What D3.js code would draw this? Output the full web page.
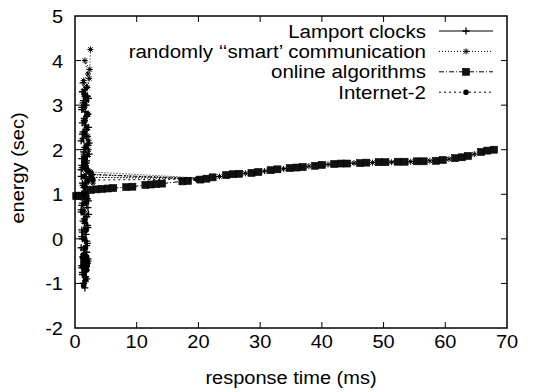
<!DOCTYPE html>
<html lang="en">
<head>
  <meta charset="UTF-8">
  <title>energy vs response time</title>
  <script src="https://d3js.org/d3.v7.min.js"></script>
  <style>
    body {
      margin: 0;
      background: #fff;
    }
    text {
      font-family: "Liberation Sans", Arial, Helvetica, sans-serif;
      font-size: 20px;
      fill: #000;
    }
    .legend text {
      font-size: 20.5px;
    }
    .frame {
      fill: none;
      stroke: #000;
      stroke-width: 1.5px;
    }
    .series {
      fill: none;
      stroke: #000;
      stroke-width: 1px;
    }
  </style>
</head>
<body>
  <svg id="chart" width="536" height="392"></svg>

  <script>
    // tick labels
    const xTicks = [0, 10, 20, 30, 40, 50, 60, 70];
    const yTicks = [-2, -1, 0, 1, 2, 3, 4, 5];

    // series names, in legend order
    const seriesNames = ["Lamport clocks", "randomly \u2018\u2018smart\u2019 communication", "online algorithms", "Internet-2"];

    // Lamport clocks: dense column near 1.5 ms (down, up, down again)
    const lamportX = [1.3, 1.9, 1.2, 2.0, 1.4, 1.8, 1.1, 2.1, 1.5, 1.2, 2.2, 1.3, 1.9, 1.0, 2.1, 1.4, 2.3, 1.1, 1.8, 1.2,
                      2.4, 1.0, 2.2, 1.3, 2.5, 1.1, 2.0, 1.2, 2.1, 1.0, 1.9, 1.3, 2.0, 1.1, 1.8, 1.2, 2.0, 1.0, 1.9, 1.3,
                      2.1, 1.1, 1.8, 1.2, 1.9, 1.3, 1.6,
                      1.7, 1.2, 2.0, 1.4, 1.9, 1.1, 2.1, 1.5, 1.0, 2.2, 1.6, 1.2, 2.6, 1.1, 2.0, 1.6, 1.3, 1.9, 1.5, 1.7,
                      1.3, 1.6,
                      1.5, 2.2, 1.1, 1.9, 1.6, 1.2, 2.3, 1.4, 1.9, 1.0, 2.3, 1.5, 1.8, 1.1, 2.2, 1.6, 1.2, 1.9, 1.4, 2.1,
                      1.1, 1.7, 1.4];
    const lamportY = [3.5, 3.4, 3.3, 3.2, 3.1, 3.0, 2.9, 2.8, 2.7, 2.6, 2.5, 2.4, 2.3, 2.2, 2.1, 2.0, 1.9, 1.8, 1.7, 1.6,
                      1.5, 1.4, 1.3, 1.2, 1.1, 1.0, 0.9, 0.8, 0.7, 0.6, 0.5, 0.4, 0.3, 0.2, 0.1, 0.0, -0.1, -0.2, -0.3, -0.4,
                      -0.5, -0.6, -0.7, -0.8, -0.9, -1.0, -1.1,
                      -0.95, -0.75, -0.55, -0.35, -0.15, 0.05, 0.25, 0.45, 0.65, 0.85, 1.05, 1.25, 1.45, 1.65, 1.85, 2.05, 2.25, 2.45, 2.65, 2.85,
                      3.05, 3.25,
                      3.35, 3.15, 2.95, 2.75, 2.55, 2.35, 2.15, 1.95, 1.75, 1.55, 1.35, 1.15, 0.95, 0.75, 0.55, 0.35, 0.15, -0.05, -0.25, -0.45,
                      -0.65, -0.85, -1.0];

    // randomly "smart" communication
    const randomX = [2.5, 2.4, 1.6, 2.1, 1.4, 2.0, 1.5, 1.9, 1.3, 2.1, 1.6, 1.9, 1.4, 2.2, 1.7, 2.0, 1.5, 1.8, 1.2, 2.3,
                     1.6, 2.0, 1.3, 2.6, 1.7, 2.9, 1.5, 1.8, 2.2, 1.6, 2.0, 1.5, 2.3, 1.7, 2.1, 1.4, 2.6, 21.0, 2.7, 20.6,
                     2.8, 21.8, 23.4, 27.6, 30.7, 33.8, 37.9, 41.0, 45.2, 48.2, 51.3, 54.4, 57.5, 60.6, 64.7];
    const randomY = [4.25, 3.8, 4.0, 3.7, 3.55, 3.4, 3.25, 3.1, 2.95, 2.8, 2.65, 2.5, 2.35, 2.2, 2.05, 1.9, 1.8, 1.7, 1.6, 1.5,
                     1.4, 1.3, 1.2, 1.35, 1.1, 1.25, 1.0, 1.6, 2.0, 2.4, 2.8, 3.2, 3.6, 3.0, 2.3, 1.9, 1.5, 1.36, 1.44, 1.34,
                     1.38, 1.37, 1.40, 1.47, 1.52, 1.57, 1.63, 1.67, 1.70, 1.71, 1.72, 1.73, 1.75, 1.79, 1.90];

    // online algorithms
    const onlineX = [0.2, 0.8, 1.4, 1.7, 2.6, 3.5, 4.4, 5.3, 6.2, 8.3, 9.3, 11.4, 12.3, 13.2, 14.1, 17.4, 18.3, 20.3, 21.3, 22.3,
                     24.5, 25.6, 26.6, 28.6, 29.7, 31.7, 32.8, 34.8, 35.9, 36.9, 38.9, 40.0, 42.0, 43.1, 44.1, 46.2, 47.2, 49.2, 50.3, 52.3,
                     53.4, 55.4, 56.5, 58.5, 59.6, 61.6, 62.7, 63.7, 65.8, 66.8, 67.9];
    const onlineY = [0.96, 0.97, 0.95, 1.0, 1.10, 1.11, 1.12, 1.13, 1.14, 1.16, 1.17, 1.21, 1.22, 1.23, 1.24, 1.29, 1.30, 1.33, 1.35, 1.38,
                     1.43, 1.45, 1.46, 1.48, 1.50, 1.54, 1.56, 1.59, 1.60, 1.61, 1.64, 1.66, 1.68, 1.69, 1.69, 1.70, 1.71, 1.72, 1.72, 1.73,
                     1.73, 1.74, 1.74, 1.75, 1.77, 1.81, 1.83, 1.86, 1.95, 1.98, 2.0];

    // Internet-2: blob near -0.5, then up into the column, one jump to the curve
    const internetX = [1.4, 1.7, 1.5, 1.9, 1.2, 1.6, 2.0, 1.3, 1.8, 1.5, 2.0, 1.2, 1.7, 1.4, 1.9, 1.3, 1.6, 2.0, 1.4, 1.7,
                       1.5, 1.8, 1.6, 1.3, 1.7, 1.5, 1.6, 1.4, 1.8, 1.5, 2.0, 2.9, 19.8, 2.6, 1.9, 1.5];
    const internetY = [-1.05, -0.9, -0.8, -0.7, -0.62, -0.58, -0.55, -0.5, -0.48, -0.45, -0.6, -0.42, -0.52, -0.62, -0.4, -0.56, -0.66, -0.5, -0.35, -0.2,
                       0.0, 0.2, 0.4, 0.6, 0.8, 1.0, 1.2, 1.4, 1.6, 1.8, 1.3, 1.32, 1.34, 1.45, 1.55, 1.7];

    const width = 536, height = 392;
    const margin = {top: 16, right: 29, bottom: 64, left: 75};
    const w = width - margin.left - margin.right;
    const h = height - margin.top - margin.bottom;

    const svg = d3.select("#chart");
    const g = svg.append("g").attr("transform", "translate(" + margin.left + "," + margin.top + ")");

    const x = d3.scaleLinear().domain([0, 70]).range([0, w]);
    const y = d3.scaleLinear().domain([-2, 5]).range([h, 0]);

    // line style and marker for each series
    const styles = [
      {dash: null, marker: "plus"},
      {dash: "1,2", marker: "star"},
      {dash: "5,2,1,2", marker: "square"},
      {dash: "2,3", marker: "circle"}
    ];

    const seriesData = [
      d3.zip(lamportX, lamportY),
      d3.zip(randomX, randomY),
      d3.zip(onlineX, onlineY),
      d3.zip(internetX, internetY)
    ];

    // ticks pointing inward on all four sides
    const tickLen = 6;
    const ticks = g.append("g").attr("stroke", "#000");
    ticks.selectAll("line.xb")
      .data(xTicks.slice(1, -1))
      .join("line")
      .attr("x1", d => x(d)).attr("x2", d => x(d))
      .attr("y1", h).attr("y2", h - tickLen);
    ticks.selectAll("line.xt")
      .data(xTicks.slice(1, -1))
      .join("line")
      .attr("x1", d => x(d)).attr("x2", d => x(d))
      .attr("y1", 0).attr("y2", tickLen);
    ticks.selectAll("line.yl")
      .data(yTicks.slice(1, -1))
      .join("line")
      .attr("x1", 0).attr("x2", tickLen)
      .attr("y1", d => y(d)).attr("y2", d => y(d));
    ticks.selectAll("line.yr")
      .data(yTicks.slice(1, -1))
      .join("line")
      .attr("x1", w).attr("x2", w - tickLen)
      .attr("y1", d => y(d)).attr("y2", d => y(d));

    // tick labels
    g.append("g")
      .selectAll("text")
      .data(xTicks)
      .join("text")
      .attr("x", d => x(d))
      .attr("y", h + 20)
      .attr("text-anchor", "middle")
      .text(d => d);
    g.append("g")
      .selectAll("text")
      .data(yTicks)
      .join("text")
      .attr("x", -12)
      .attr("y", d => y(d) + 7)
      .attr("text-anchor", "end")
      .text(d => d);

    // axis titles
    svg.append("text")
      .attr("x", margin.left + w / 2)
      .attr("y", 384)
      .attr("text-anchor", "middle")
      .text("response time (ms)");
    svg.append("text")
      .attr("transform", "translate(24," + (margin.top + h / 2 - 4) + ") rotate(-90)")
      .attr("text-anchor", "middle")
      .text("energy (sec)");

    const line = d3.line().x(d => x(d[0])).y(d => y(d[1]));

    function drawMarker(sel, type) {
      if (type === "plus") {
        sel.append("path").attr("d", "M-3.5,0H3.5M0,-3.5V3.5").attr("stroke", "#000").attr("stroke-width", 1.3).attr("fill", "none");
      } else if (type === "star") {
        sel.append("path").attr("d", "M-3,0H3M0,-3V3M-2.2,-2.2L2.2,2.2M-2.2,2.2L2.2,-2.2").attr("stroke", "#000").attr("fill", "none");
      } else if (type === "square") {
        sel.append("rect").attr("x", -3.5).attr("y", -3.5).attr("width", 7).attr("height", 7)
          .attr("fill", "#111").attr("stroke", "#000").attr("stroke-width", 0.6);
      } else {
        sel.append("circle").attr("r", 2.8).attr("fill", "#000");
      }
    }

    // series lines and markers
    seriesData.forEach((data, i) => {
      g.append("path")
        .datum(data)
        .attr("class", "series")
        .attr("stroke-dasharray", styles[i].dash)
        .attr("d", line);
      const pts = g.append("g")
        .selectAll("g")
        .data(data)
        .join("g")
        .attr("transform", d => "translate(" + x(d[0]) + "," + y(d[1]) + ")");
      drawMarker(pts, styles[i].marker);
    });

    // frame
    g.append("rect")
      .attr("class", "frame")
      .attr("width", w)
      .attr("height", h);

    // legend
    const legend = svg.append("g").attr("class", "legend");
    seriesNames.forEach((name, i) => {
      const ly = 31 + i * 20.4;
      legend.append("text")
        .attr("x", 426)
        .attr("y", ly + 6.5)
        .attr("text-anchor", "end")
        .text(name);
      legend.append("line")
        .attr("x1", 439).attr("x2", 493)
        .attr("y1", ly).attr("y2", ly)
        .attr("stroke", "#000")
        .attr("stroke-dasharray", styles[i].dash);
      const m = legend.append("g").attr("transform", "translate(466," + ly + ")");
      drawMarker(m, styles[i].marker);
    });

    // the source glyphs are a bit wider than they are tall:
    // keep the measured width, shrink the height
    svg.selectAll("text").each(function () {
      const t = d3.select(this);
      const len = this.getComputedTextLength();
      const fs = parseFloat(getComputedStyle(this).fontSize);
      t.style("font-size", (fs * 0.88) + "px")
        .attr("textLength", len)
        .attr("lengthAdjust", "spacingAndGlyphs");
    });
  </script>
</body>
</html>
